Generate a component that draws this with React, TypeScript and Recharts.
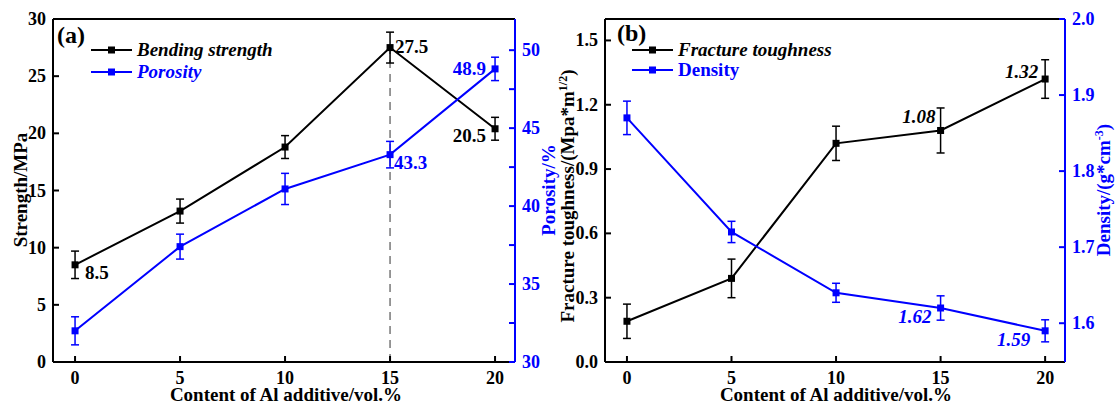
import { LineChart, Line, XAxis, YAxis, ErrorBar, ReferenceLine, LabelList } from "recharts"

// Al additive content, vol.%
const content = [0, 5, 10, 15, 20]

// panel (a)
const strength = [8.5, 13.2, 18.8, 27.5, 20.4]
const strengthErr = [1.2, 1.05, 1.0, 1.35, 1.0]
const strengthText = ["8.5", "", "", "27.5", "20.5"]
const porosity = [32.0, 37.4, 41.1, 43.3, 48.8]
const porosityErr = [0.9, 0.8, 1.0, 0.85, 0.75]
const porosityText = ["", "", "", "43.3", "48.9"]

// panel (b)
const toughness = [0.19, 0.39, 1.02, 1.08, 1.32]
const toughnessErr = [0.08, 0.09, 0.08, 0.105, 0.09]
const toughnessText = ["", "", "", "1.08", "1.32"]
const density = [1.87, 1.72, 1.64, 1.62, 1.59]
const densityErr = [0.022, 0.014, 0.0125, 0.016, 0.0145]
const densityText = ["", "", "", "1.62", "1.59"]

const xTicks = [0, 5, 10, 15, 20]
const strengthTicks = [0, 5, 10, 15, 20, 25, 30]
const porosityTicks = [30, 32.5, 35, 37.5, 40, 42.5, 45, 47.5, 50]
const toughnessTicks = [0, 0.3, 0.6, 0.9, 1.2, 1.5]
const densityTicks = [1.6, 1.7, 1.8, 1.9, 2.0]

const dataA = content.map((c, i) => ({
  c,
  strength: strength[i],
  strengthErr: strengthErr[i],
  strengthText: strengthText[i],
  porosity: porosity[i],
  porosityErr: porosityErr[i],
  porosityText: porosityText[i],
}))

const dataB = content.map((c, i) => ({
  c,
  toughness: toughness[i],
  toughnessErr: toughnessErr[i],
  toughnessText: toughnessText[i],
  density: density[i],
  densityErr: densityErr[i],
  densityText: densityText[i],
}))

const FONT = '"Liberation Serif", "Times New Roman", serif'
const BLUE = "#0000ff"
const BLACK = "#000000"
const TM = 7

const yTick = (side: "left" | "right", color: string, fmt: (v: number) => string, show = (v: number) => true) =>
  (props: any) => {
    const { x, y, payload } = props
    const v = payload.value
    const ax = side === "left" ? x + TM : x - TM
    const dir = side === "left" ? 1 : -1
    return (
      <g>
        <line x1={ax} x2={ax + dir * 6} y1={y} y2={y} stroke={color} strokeWidth={2} />
        {show(v) && (
          <text x={x} y={y} dy={6} textAnchor={side === "left" ? "end" : "start"} fill={color}
            fontFamily={FONT} fontWeight="bold" fontSize={18}>
            {fmt(v)}
          </text>
        )}
      </g>
    )
  }

const xTick = (props: any) => {
  const { x, y, payload } = props
  const ay = y - TM
  return (
    <g>
      <line x1={x} x2={x} y1={ay} y2={ay - 6} stroke={BLACK} strokeWidth={2} />
      <text x={x} y={y} dy={15} textAnchor="middle" fill={BLACK} fontFamily={FONT} fontWeight="bold" fontSize={18}>
        {payload.value}
      </text>
    </g>
  )
}

const square = (color: string) => (props: any) => {
  const { cx, cy, index } = props
  return <rect key={index} x={cx - 3.5} y={cy - 3.5} width={7} height={7} fill={color} />
}

// label placement per point: [dx, dy, anchor]
const placeStrength: [number, number, string][] = [[10, 14, "start"], [0, 0, "start"], [0, 0, "start"], [5, 5, "start"], [-9, 13, "end"]]
const placePorosity: [number, number, string][] = [[0, 0, "start"], [0, 0, "start"], [0, 0, "start"], [4, 14, "start"], [-9, 6, "end"]]
const placeToughness: [number, number, string][] = [[0, 0, "end"], [0, 0, "end"], [0, 0, "end"], [-5, -7, "end"], [-7, -1, "end"]]
const placeDensity: [number, number, string][] = [[0, 0, "end"], [0, 0, "end"], [0, 0, "end"], [-9, 15, "end"], [-15, 15, "end"]]

const pointLabel = (color: string, place: [number, number, string][], italic: boolean) => (props: any) => {
  const { x, y, value, index } = props
  if (!value) return null
  const [dx, dy, anchor] = place[index]
  return (
    <text x={x + dx} y={y + dy} textAnchor={anchor as any} fill={color} fontFamily={FONT}
      fontWeight="bold" fontStyle={italic ? "italic" : "normal"} fontSize={19}>
      {value}
    </text>
  )
}

const axisLine = (color: string) => ({ stroke: color, strokeWidth: 2 })

function PanelA() {
  return (
    <LineChart width={558} height={405} data={dataA} margin={{ top: 19, right: 0, bottom: 0, left: 0 }}>
      <XAxis dataKey="c" type="number" domain={[-1.05, 20.95]} ticks={xTicks} allowDataOverflow
        axisLine={axisLine(BLACK)} tickLine={false} tickSize={0} tickMargin={TM} height={43} tick={xTick} />
      <YAxis yAxisId="l" domain={[0, 30]} ticks={strengthTicks} width={53} axisLine={axisLine(BLACK)}
        tickLine={false} tickSize={0} tickMargin={TM} tick={yTick("left", BLACK, (v) => String(v))} />
      <YAxis yAxisId="r" orientation="right" domain={[30, 52]} ticks={porosityTicks} width={43}
        axisLine={axisLine(BLUE)} tickLine={false} tickSize={0} tickMargin={TM}
        tick={yTick("right", BLUE, (v) => String(v), (v) => v % 5 === 0)} />
      <ReferenceLine yAxisId="l" y={30} stroke={BLACK} strokeWidth={2} />
      <ReferenceLine yAxisId="l" segment={[{ x: 15, y: 0 }, { x: 15, y: strength[3] }]}
        stroke="#777777" strokeWidth={1.5} strokeDasharray="8 6" />
      <Line yAxisId="l" dataKey="strength" stroke={BLACK} strokeWidth={2} isAnimationActive={false}
        dot={square(BLACK)} activeDot={false}>
        <ErrorBar dataKey="strengthErr" direction="y" width={4} stroke={BLACK} strokeWidth={1.5} />
        <LabelList dataKey="strengthText" content={pointLabel(BLACK, placeStrength, false)} />
      </Line>
      <Line yAxisId="r" dataKey="porosity" stroke={BLUE} strokeWidth={2} isAnimationActive={false}
        dot={square(BLUE)} activeDot={false}>
        <ErrorBar dataKey="porosityErr" direction="y" width={4} stroke={BLUE} strokeWidth={1.5} />
        <LabelList dataKey="porosityText" content={pointLabel(BLUE, placePorosity, false)} />
      </Line>
    </LineChart>
  )
}

function PanelB() {
  return (
    <LineChart width={558} height={405} data={dataB} margin={{ top: 19, right: 0, bottom: 0, left: 0 }}>
      <XAxis dataKey="c" type="number" domain={[-1.05, 20.95]} ticks={xTicks} allowDataOverflow
        axisLine={axisLine(BLACK)} tickLine={false} tickSize={0} tickMargin={TM} height={43} tick={xTick} />
      <YAxis yAxisId="l" domain={[0, 1.6]} ticks={toughnessTicks} width={47} axisLine={axisLine(BLACK)}
        tickLine={false} tickSize={0} tickMargin={TM} tick={yTick("left", BLACK, (v) => v.toFixed(1))} />
      <YAxis yAxisId="r" orientation="right" domain={[1.549, 2.0]} ticks={densityTicks} width={51}
        allowDataOverflow axisLine={axisLine(BLUE)} tickLine={false} tickSize={0} tickMargin={TM}
        tick={yTick("right", BLUE, (v) => v.toFixed(1))} />
      <ReferenceLine yAxisId="l" y={1.6} stroke={BLACK} strokeWidth={2} />
      <Line yAxisId="l" dataKey="toughness" stroke={BLACK} strokeWidth={2} isAnimationActive={false}
        dot={square(BLACK)} activeDot={false}>
        <ErrorBar dataKey="toughnessErr" direction="y" width={4} stroke={BLACK} strokeWidth={1.5} />
        <LabelList dataKey="toughnessText" content={pointLabel(BLACK, placeToughness, true)} />
      </Line>
      <Line yAxisId="r" dataKey="density" stroke={BLUE} strokeWidth={2} isAnimationActive={false}
        dot={square(BLUE)} activeDot={false}>
        <ErrorBar dataKey="densityErr" direction="y" width={4} stroke={BLUE} strokeWidth={1.5} />
        <LabelList dataKey="densityText" content={pointLabel(BLUE, placeDensity, true)} />
      </Line>
    </LineChart>
  )
}

const txt = { fontFamily: FONT, fontWeight: "bold" as const }

function LegendItem({ x, y, color, label, italic }: { x: number; y: number; color: string; label: string; italic: boolean }) {
  return (
    <g>
      <line x1={x} x2={x + 41} y1={y} y2={y} stroke={color} strokeWidth={2} />
      <rect x={x + 17} y={y - 3.5} width={7} height={7} fill={color} />
      <text x={x + 46} y={y + 6} fill={color} fontSize={19} fontStyle={italic ? "italic" : "normal"} {...txt}>
        {label}
      </text>
    </g>
  )
}

export default function App() {
  return (
    <div style={{ position: "absolute", left: 0, top: 0, width: 1116, height: 405, background: "#fff" }}>
      <div style={{ position: "absolute", left: 0, top: 0 }}>
        <PanelA />
      </div>
      <div style={{ position: "absolute", left: 558, top: 0 }}>
        <PanelB />
      </div>
      <svg width={1116} height={405} style={{ position: "absolute", left: 0, top: 0, pointerEvents: "none" }}>
        <text x={57} y={43} fontSize={24} {...txt}>(a)</text>
        <LegendItem x={91} y={50} color={BLACK} label="Bending strength" italic />
        <LegendItem x={91} y={72} color={BLUE} label="Porosity" italic />

        <text x={617} y={41} fontSize={24} {...txt}>(b)</text>
        <LegendItem x={632} y={50} color={BLACK} label="Fracture toughness" italic />
        <LegendItem x={632} y={70} color={BLUE} label="Density" italic={false} />

        <text x={286} y={401} fontSize={19} textAnchor="middle" {...txt}>Content of Al additive/vol.%</text>
        <text x={836} y={401} fontSize={19} textAnchor="middle" {...txt}>Content of Al additive/vol.%</text>

        <text transform="translate(27,190) rotate(-90)" fontSize={19} textAnchor="middle" {...txt}>Strength/MPa</text>
        <text transform="translate(555,190) rotate(-90)" fontSize={19} textAnchor="middle" fill={BLUE} {...txt}>Porosity/%</text>
        <text transform="translate(574,196) rotate(-90)" fontSize={19} textAnchor="middle" {...txt}>
          Fracture toughness/(Mpa*m<tspan dy={-7} fontSize={12}>1/2</tspan><tspan dy={7}>)</tspan>
        </text>
        <text transform="translate(1110,190) rotate(-90)" fontSize={19} textAnchor="middle" fill={BLUE} {...txt}>
          Density/(g*cm<tspan dy={-7} fontSize={12}>-3</tspan><tspan dy={7}>)</tspan>
        </text>
      </svg>
    </div>
  )
}
